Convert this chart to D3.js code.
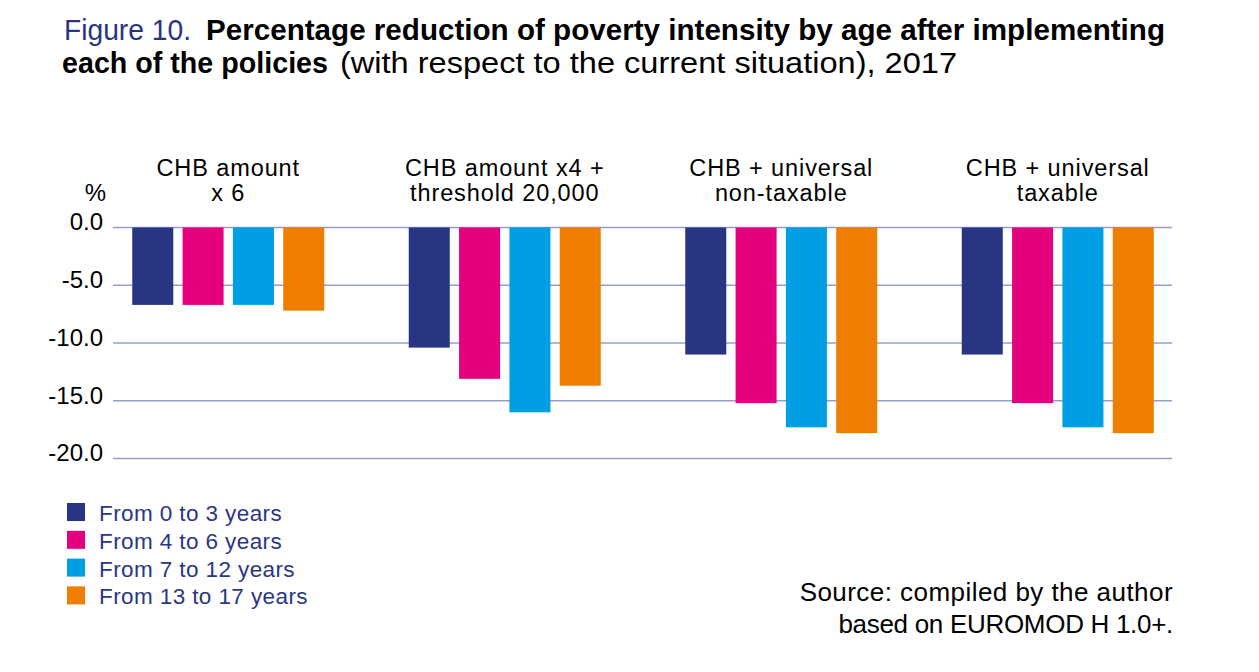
<!DOCTYPE html>
<html>
<head>
<meta charset="utf-8">
<script src="https://cdn.jsdelivr.net/npm/d3@7"></script>
<style>
	body { margin: 0; background: #fff; }
	text { font-family: "Liberation Sans", Arial, sans-serif; }
</style>
</head>
<body>
<div id="wrapper"></div>
<script>

// data

const policies = [
	"CHB amount\nx 6",
	"CHB amount x4 +\nthreshold 20,000",
	"CHB + universal\nnon-taxable",
	"CHB + universal\ntaxable"
];

const ageGroups = ["From 0 to 3 years", "From 4 to 6 years", "From 7 to 12 years", "From 13 to 17 years"];

const age0to3 = [-6.7, -10.4, -11.0, -11.0];
const age4to6 = [-6.7, -13.1, -15.2, -15.2];
const age7to12 = [-6.7, -16.0, -17.3, -17.3];
const age13to17 = [-7.2, -13.7, -17.8, -17.8];

const yTicks = [0, -5, -10, -15, -20];

const ageColors = ["#283583", "#e5007d", "#009fe3", "#ef7d00"];

function drawChart () {

	// 1. Build rows

	const seriesValues = [age0to3, age4to6, age7to12, age13to17];
	const rows = [];
	policies.forEach((p, i) => {
		ageGroups.forEach((a, j) => {
			rows.push({policy: p, age: a, value: seriesValues[j][i]});
		});
	});

	// 2. Dimensions

	let dimensions = {
		width: 1259,
		height: 672,
		plot: {left: 113, right: 1172, top: 227.5, bottom: 458.5}
	};

	const wrapper = d3.select("#wrapper")
		.append("svg")
		.attr("width", dimensions.width)
		.attr("height", dimensions.height);

	// 3. Scales

	const xScale = d3.scaleBand()
		.domain(policies)
		.range([90, 1196]);

	const groupWidth = 192;
	const innerScale = d3.scaleBand()
		.domain(ageGroups)
		.range([0, groupWidth])
		.paddingInner(0.185);

	const yScale = d3.scaleLinear()
		.domain([-20, 0])
		.range([dimensions.plot.bottom, dimensions.plot.top]);

	const colorScale = d3.scaleOrdinal()
		.domain(ageGroups)
		.range(ageColors);

	// 4. Title

	const title = wrapper.append("g").attr("class", "title");
	title.append("text")
		.attr("x", 64).attr("y", 40)
		.attr("textLength", 127).attr("lengthAdjust", "spacingAndGlyphs")
		.style("font-size", "30px").style("fill", "#283583")
		.text("Figure 10.");
	title.append("text")
		.attr("x", 206).attr("y", 40)
		.attr("textLength", 959).attr("lengthAdjust", "spacingAndGlyphs")
		.style("font-size", "30px").style("font-weight", "bold").style("fill", "#000")
		.text("Percentage reduction of poverty intensity by age after implementing");
	title.append("text")
		.attr("x", 62).attr("y", 73)
		.attr("textLength", 266).attr("lengthAdjust", "spacingAndGlyphs")
		.style("font-size", "30px").style("font-weight", "bold").style("fill", "#000")
		.text("each of the policies");
	title.append("text")
		.attr("x", 340).attr("y", 73)
		.attr("textLength", 617).attr("lengthAdjust", "spacingAndGlyphs")
		.style("font-size", "30px").style("fill", "#000")
		.text("(with respect to the current situation), 2017");

	// 5. Grid + y labels

	const grid = wrapper.append("g").attr("class", "grid");
	grid.selectAll("line")
		.data(yTicks)
		.join("line")
		.attr("x1", dimensions.plot.left)
		.attr("x2", dimensions.plot.right)
		.attr("y1", d => yScale(d))
		.attr("y2", d => yScale(d))
		.attr("stroke", "#979cc8")
		.attr("stroke-width", 1.5);

	grid.selectAll("text")
		.data(yTicks)
		.join("text")
		.attr("x", 103)
		.attr("y", d => yScale(d))
		.attr("dy", "0.12em")
		.style("text-anchor", "end")
		.style("font-size", "24px")
		.style("fill", "#000")
		.text(d => d.toFixed(1));

	wrapper.append("text")
		.attr("x", 106).attr("y", 201)
		.style("text-anchor", "end")
		.style("font-size", "24px")
		.text("%");

	// 6. Bars

	wrapper.append("g")
		.selectAll("rect")
		.data(rows)
		.join("rect")
		.attr("x", d => xScale(d.policy) + (xScale.bandwidth() - groupWidth) / 2 + innerScale(d.age))
		.attr("width", innerScale.bandwidth())
		.attr("y", d => yScale(Math.max(0, d.value)))
		.attr("height", d => Math.abs(yScale(d.value) - yScale(0)))
		.attr("fill", d => colorScale(d.age));

	// 7. Category labels (one text per line)

	const catGroups = wrapper.append("g")
		.selectAll("g")
		.data(policies)
		.join("g")
		.attr("transform", d => `translate(${xScale(d) + xScale.bandwidth() / 2}, 0)`);

	catGroups.selectAll("text")
		.data(d => d.split("\n"))
		.join("text")
		.attr("y", (d, i) => 176 + i * 25)
		.style("text-anchor", "middle")
		.style("font-size", "23.5px")
		.style("letter-spacing", "0.9px")
		.style("fill", "#000")
		.text(d => d);

	// 8. Legend

	const legend = wrapper.append("g")
		.attr("transform", "translate(67, 503)");

	const legendItems = legend.selectAll("g")
		.data(ageGroups)
		.join("g")
		.attr("transform", (d, i) => `translate(0, ${i * 27.8})`);

	legendItems.append("rect")
		.attr("width", 18)
		.attr("height", 18)
		.attr("fill", d => colorScale(d));

	legendItems.append("text")
		.attr("x", 32)
		.attr("y", 18)
		.style("font-size", "22.5px")
		.style("letter-spacing", "0.4px")
		.style("fill", "#2b3784")
		.text(d => d);

	// 9. Source

	const sourceLines = ["Source: compiled by the author", "based on EUROMOD H 1.0+."];
	wrapper.append("g")
		.selectAll("text")
		.data(sourceLines)
		.join("text")
		.attr("x", 1173)
		.attr("y", (d, i) => 601 + i * 31.5)
		.style("text-anchor", "end")
		.style("font-size", "26px")
		.style("letter-spacing", (d, i) => i === 0 ? "0.45px" : "-0.3px")
		.style("fill", "#000")
		.text(d => d);

};

drawChart();
</script>
</body>
</html>
